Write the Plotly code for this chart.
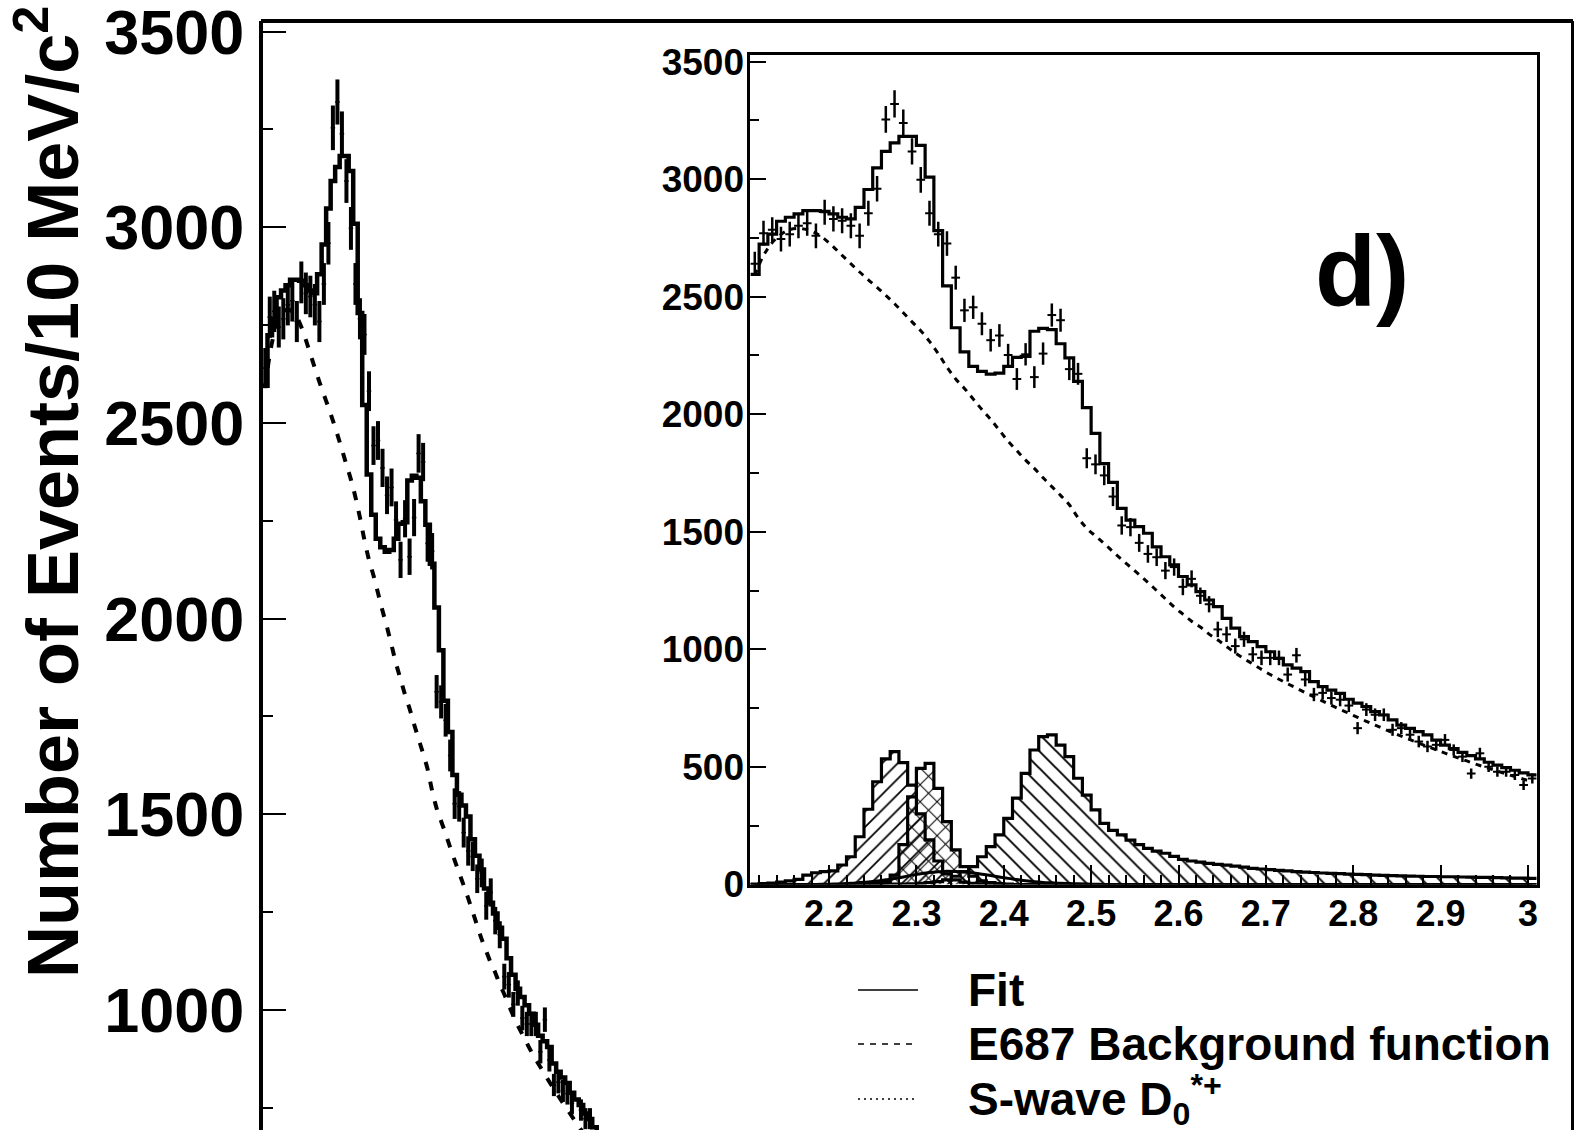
import numpy as np
import plotly.graph_objects as go

W, H = 1574, 1130

# ---------------- data (10 MeV bins from 2.11 to 3.01 GeV) ----------------
bin_low = 2.11
bin_width = 0.01
n_bins = 90

counts = [2640, 2770, 2785, 2745, 2766, 2802, 2812, 2759, 2859, 2831,
          2823, 2802, 2759, 2855, 2959, 3254, 3320, 3239, 3118, 2997,
          2855, 2766, 2726, 2581, 2442, 2455, 2385, 2315, 2335, 2252,
          2150, 2255, 2158, 2258, 2422, 2400, 2192, 2172, 1813, 1787,
          1740, 1650, 1527, 1520, 1453, 1406, 1392, 1335, 1350, 1266,
          1300, 1228, 1192, 1085, 1064, 1014, 1043, 979, 964, 964,
          964, 893, 975, 872, 808, 815, 793, 786, 761, 665,
          744, 722, 722, 658, 665, 637, 608, 587, 594, 615,
          572, 544, 472, 558, 501, 480, 480, 466, 423, 451]

fit = [2595, 2724, 2766, 2821, 2838, 2852, 2866, 2866, 2863, 2852,
       2838, 2831, 2880, 2956, 3048, 3118, 3154, 3182, 3182, 3144,
       3009, 2781, 2546, 2368, 2265, 2204, 2182, 2171, 2175, 2204,
       2242, 2246, 2353, 2365, 2360, 2300, 2240, 2140, 2028, 1919,
       1790, 1710, 1600, 1550, 1522, 1494, 1436, 1394, 1359, 1310,
       1274, 1246, 1210, 1182, 1132, 1090, 1054, 1033, 1012, 990,
       962, 934, 920, 905, 863, 842, 827, 813, 788, 771,
       757, 735, 721, 700, 678, 664, 650, 636, 614, 593,
       578, 562, 548, 534, 520, 508, 497, 486, 475, 466]

background = [2590, 2675, 2730, 2765, 2785, 2790, 2785, 2770, 2745, 2712,
              2676, 2640, 2605, 2572, 2540, 2506, 2470, 2432, 2393, 2355,
              2310, 2258, 2200, 2150, 2110, 2065, 2020, 1978, 1932, 1885,
              1845, 1805, 1770, 1730, 1692, 1655, 1615, 1560, 1515, 1482,
              1450, 1415, 1382, 1350, 1318, 1285, 1250, 1215, 1180, 1150,
              1120, 1095, 1065, 1040, 1012, 985, 960, 938, 915, 893,
              873, 854, 835, 816, 798, 780, 762, 745, 728, 711,
              694, 678, 662, 646, 631, 616, 601, 587, 573, 559,
              545, 532, 519, 506, 494, 482, 470, 459, 448, 437]

comp_a = [2, 4, 6, 10, 15, 22, 40, 50, 55, 58,
          83, 118, 203, 320, 437, 534, 565, 518, 423, 300,
          190, 100, 45, 20, 10, 5, 3, 2, 1, 0] + [0] * 60

comp_b = [0] * 14 + [4, 10, 40, 170, 373, 494,
                     515, 409, 267, 147, 76, 35, 15, 8, 4, 2] + [0] * 60

comp_c = [0, 0, 0, 0, 0, 0, 0, 0, 0, 0,
          0, 0, 0, 0, 1, 1, 2, 2, 3, 5,
          8, 12, 20, 35, 55, 76, 118, 161, 211, 281,
          367, 473, 572, 629, 636, 593, 544, 452, 380, 317,
          260, 230, 211, 189, 170, 154, 142, 133, 120, 107,
          100, 95, 90, 86, 82, 78, 74, 69, 66, 63,
          60, 58, 55, 53, 51, 49, 47, 46, 44, 43,
          42, 40, 39, 38, 37, 36, 35, 34, 34, 33,
          33, 32, 31, 30, 30, 29, 28, 27, 27, 26]

comp_d = [0, 0, 0, 0, 0, 0, 0, 0, 1, 2,
          3, 5, 8, 11, 15, 20, 25, 32, 40, 46,
          51, 54, 56, 55, 53, 49, 44, 38, 32, 26,
          21, 16, 12, 9, 7, 5, 4, 3, 2, 1] + [0] * 50

main_yticks = [1000, 1500, 2000, 2500, 3000, 3500]
inset_xticks = [2.2, 2.3, 2.4, 2.5, 2.6, 2.7, 2.8, 2.9, 3.0]
inset_xticktext = ["2.2", "2.3", "2.4", "2.5", "2.6", "2.7", "2.8", "2.9", "3"]
y_title = "Number of Events/10 MeV/c<sup>2</sup>"
legend_labels = ["Fit", "E687 Background function", "S-wave D<sub>0</sub><sup>*+</sup>"]

# ---------------- derived ----------------
edges = bin_low + bin_width * np.arange(n_bins + 1)
centers = bin_low + bin_width * (np.arange(n_bins) + 0.5)
errs = np.sqrt(np.array(counts, dtype=float))


def step_y(v):
    return list(v) + [v[-1]]


FONT = "Liberation Sans"


def px_x(p):
    return p / W


def px_y(p):
    return 1 - p / H


fig = go.Figure()

# ---------------- main (zoomed-in) panel ----------------
fig.add_trace(go.Scatter(x=edges, y=step_y(fit), mode="lines", line=dict(shape="hv", color="black", width=4.5),
                         xaxis="x", yaxis="y", showlegend=False, hoverinfo="skip"))
fig.add_trace(go.Scatter(x=centers, y=background, mode="lines",
                         line=dict(shape="spline", color="black", width=4, dash="9px,11px"),
                         xaxis="x", yaxis="y", showlegend=False))
fig.add_trace(go.Scatter(x=centers, y=counts, mode="markers", marker=dict(size=2, color="black"),
                         error_y=dict(type="data", array=errs, thickness=4, width=0, color="black"),
                         error_x=dict(type="constant", value=bin_width / 2, thickness=1.5, width=0, color="black"),
                         xaxis="x", yaxis="y", showlegend=False))


# ---------------- inset panel ----------------
def hatched(vals, shape, size):
    return go.Scatter(x=edges, y=step_y(vals), mode="lines", line=dict(shape="hv", color="black", width=3.2),
                      fill="tozeroy", fillcolor="rgba(0,0,0,0)",
                      fillpattern=dict(shape=shape, fgcolor="black", bgcolor="rgba(0,0,0,0)",
                                       fgopacity=1, size=size, solidity=0.16),
                      xaxis="x2", yaxis="y2", showlegend=False)


fig.add_trace(hatched(comp_c, "\\", 12))
fig.add_trace(hatched(comp_a, "/", 11))
fig.add_trace(hatched(comp_b, "x", 12))
fig.add_trace(go.Scatter(x=centers, y=comp_d, mode="lines", line=dict(shape="spline", color="black", width=3),
                         xaxis="x2", yaxis="y2", showlegend=False))
fig.add_trace(go.Scatter(x=edges, y=step_y(fit), mode="lines", line=dict(shape="hv", color="black", width=3.2),
                         xaxis="x2", yaxis="y2", showlegend=False))
fig.add_trace(go.Scatter(x=centers, y=background, mode="lines",
                         line=dict(shape="spline", color="black", width=3, dash="6px,6px"),
                         xaxis="x2", yaxis="y2", showlegend=False))
fig.add_trace(go.Scatter(x=centers, y=counts, mode="markers", marker=dict(size=2, color="black"),
                         error_y=dict(type="data", array=errs, thickness=2.5, width=0, color="black"),
                         error_x=dict(type="constant", value=bin_width / 2, thickness=2, width=0, color="black"),
                         xaxis="x2", yaxis="y2", showlegend=False))

main_left, main_right, main_top = 263, 1571, 21
main_x_range = [bin_low, bin_low + (main_right - main_left) / 451.0]

fig.update_layout(
    template="none",
    width=W, height=H, margin=dict(l=0, r=0, t=0, b=0, autoexpand=False),
    paper_bgcolor="white", plot_bgcolor="rgba(0,0,0,0)",
    font=dict(family=FONT, color="black"),
    xaxis=dict(domain=[px_x(main_left), px_x(main_right)], range=main_x_range, visible=False, anchor="y",
               automargin=False),
    yaxis=dict(domain=[0, px_y(main_top)], range=[693, 3527], anchor="x", automargin=False,
               showline=True, linewidth=4, linecolor="black", mirror=True,
               ticks="inside", tickvals=main_yticks, ticklen=23, tickwidth=1.5,
               tickcolor="black", ticklabeloverflow="allow",
               minor=dict(dtick=250, tick0=0, ticks="inside", ticklen=10, tickwidth=1.5, tickcolor="black",
                          showgrid=False),
               tickfont=dict(family=FONT, size=63, weight="bold", color="black"),
               ticklabelstandoff=2, showgrid=False, zeroline=False),
    xaxis2=dict(domain=[px_x(750.4), px_x(1536.7)], range=[2.11, 3.01], anchor="y2", automargin=False,
                showline=True, linewidth=3, linecolor="black", mirror=True,
                ticks="inside", tickvals=inset_xticks, ticktext=inset_xticktext, ticklen=20, tickwidth=1.5,
                tickcolor="black", ticklabeloverflow="allow",
                minor=dict(dtick=0.02, tick0=2.0, ticks="inside", ticklen=10, tickwidth=1.5, tickcolor="black",
                           showgrid=False),
                tickfont=dict(family=FONT, size=36, weight="bold", color="black"),
                ticklabelstandoff=-5, showgrid=False, zeroline=False),
    yaxis2=dict(domain=[px_y(884.5), px_y(55)], range=[0, 3528], anchor="x2", automargin=False,
                showline=True, linewidth=3, linecolor="black", mirror=True,
                ticks="inside", dtick=500, ticklen=16, tickwidth=1.5, tickcolor="black",
                ticklabeloverflow="allow",
                minor=dict(dtick=250, tick0=0, ticks="inside", ticklen=9, tickwidth=1.5, tickcolor="black",
                           showgrid=False),
                tickfont=dict(family=FONT, size=37, weight="bold", color="black"),
                ticklabelstandoff=-4, showgrid=False, zeroline=False),
)

shapes = [
    dict(type="line", xref="paper", yref="paper", x0=px_x(main_left - 2), x1=px_x(main_right + 2),
         y0=px_y(main_top), y1=px_y(main_top), line=dict(color="black", width=4)),
]
# legend samples
leg_y = [990, 1044, 1099]
leg_dash = ["solid", "6px,6px", "2px,4px"]
for yy, dd in zip(leg_y, leg_dash):
    shapes.append(dict(type="line", xref="paper", yref="paper", x0=px_x(858), x1=px_x(918),
                       y0=px_y(yy), y1=px_y(yy), line=dict(color="black", width=1.5, dash=dd)))
fig.update_layout(shapes=shapes)

annotations = [
    dict(text=y_title, textangle=-90, x=px_x(48), y=px_y(492), xref="paper", yref="paper",
         xanchor="center", yanchor="middle", showarrow=False,
         font=dict(family=FONT, size=72, weight="bold", color="black")),
    dict(text="d)", x=px_x(1362), y=px_y(271), xref="paper", yref="paper", xanchor="center", yanchor="middle",
         showarrow=False, font=dict(family=FONT, size=100, weight="bold", color="black")),
]
for yy, lab in zip(leg_y, legend_labels):
    annotations.append(dict(text=lab, x=px_x(966), y=px_y(yy), xref="paper", yref="paper",
                            xanchor="left", yanchor="middle", showarrow=False,
                            font=dict(family=FONT, size=46, weight="bold", color="black")))
fig.update_layout(annotations=annotations)

fig.write_html("out.html")
